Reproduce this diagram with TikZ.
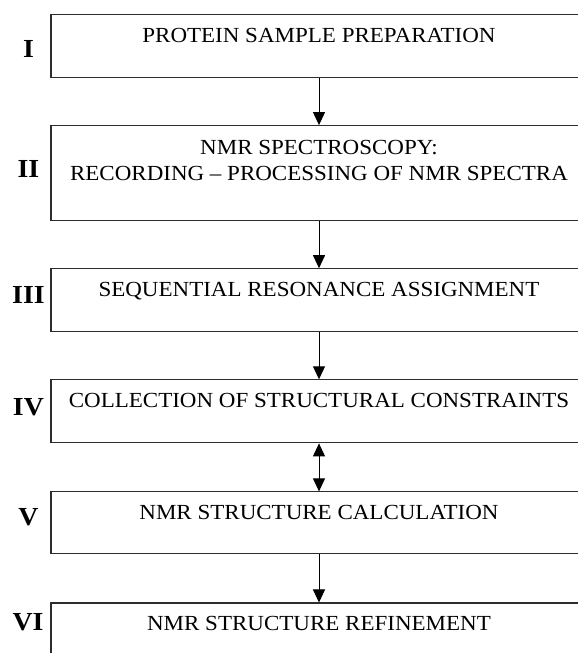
\documentclass[tikz,border=0pt]{standalone}
\usepackage{fontspec}
\setmainfont{Liberation Serif}[FakeStretch=1.07]
\usetikzlibrary{arrows.meta, positioning, calc}
\definecolor{nmrline}{RGB}{45, 45, 45}

\begin{document}
\begin{tikzpicture}[x=1pt, y=1pt, >={Triangle[width=12pt, length=13pt]},
    node distance=47pt,
    stagebox/.style={draw=nmrline, line width=1.1pt, minimum width=536pt,
      inner sep=0pt},
    stagetext/.style={font=\fontsize{21.5}{26}\selectfont, align=center,
      anchor=base},
    stagenum/.style={font=\fontsize{26}{26}\selectfont\bfseries},
    flow/.style={->, line width=1pt, draw=black}]

  % --- page frame (boxes run past the right edge) ---
  \useasboundingbox (0,0) rectangle (578,653);
  \clip (0,0) rectangle (578,653);

  % --- stage boxes ---
  \node[stagebox, minimum height=63pt, anchor=north] (b1) at (319,639) {};
  \node[stagebox, minimum height=95pt, below=of b1] (b2) {};
  \node[stagebox, minimum height=63pt, below=of b2] (b3) {};
  \node[stagebox, minimum height=63pt, below=of b3] (b4) {};
  \node[stagebox, minimum height=62pt, below=48pt of b4] (b5) {};
  \node[stagebox, minimum height=63pt, below=48pt of b5] (b6) {};

  % --- box texts ---
  \node[stagetext] (t1) at ([yshift=-29pt]b1.north)
    {PROTEIN SAMPLE PREPARATION};
  \node[stagetext] (t2) at ([yshift=-55pt]b2.north)
    {NMR SPECTROSCOPY:\\RECORDING -- PROCESSING OF NMR SPECTRA};
  \node[stagetext] (t3) at ([yshift=-28pt]b3.north)
    {SEQUENTIAL RESONANCE ASSIGNMENT};
  \node[stagetext] (t4) at ([yshift=-28pt]b4.north)
    {COLLECTION OF STRUCTURAL CONSTRAINTS};
  \node[stagetext] (t5) at ([yshift=-28pt]b5.north)
    {NMR STRUCTURE CALCULATION};
  \node[stagetext] (t6) at ([yshift=-28pt]b6.north)
    {NMR STRUCTURE REFINEMENT};

  % --- roman numerals ---
  \node[stagenum] (n1) at ($(b1.west)+(-22,-3)$) {I};
  \node[stagenum] (n2) at ($(b2.west)+(-22,4)$) {II};
  \node[stagenum] (n3) at ($(b3.west)+(-22,5)$) {III};
  \node[stagenum] (n4) at ($(b4.west)+(-22,4)$) {IV};
  \node[stagenum] (n5) at ($(b5.west)+(-22,6)$) {V};
  \node[stagenum] (n6) at (28,31) {VI};

  % --- flow arrows ---
  \draw[flow] (b1) -- (b2);
  \draw[flow] (b2) -- (b3);
  \draw[flow] (b3) -- (b4);
  \draw[flow, <->] (b4) -- (b5);
  \draw[flow] (b5) -- (b6);

\end{tikzpicture}
\end{document}
